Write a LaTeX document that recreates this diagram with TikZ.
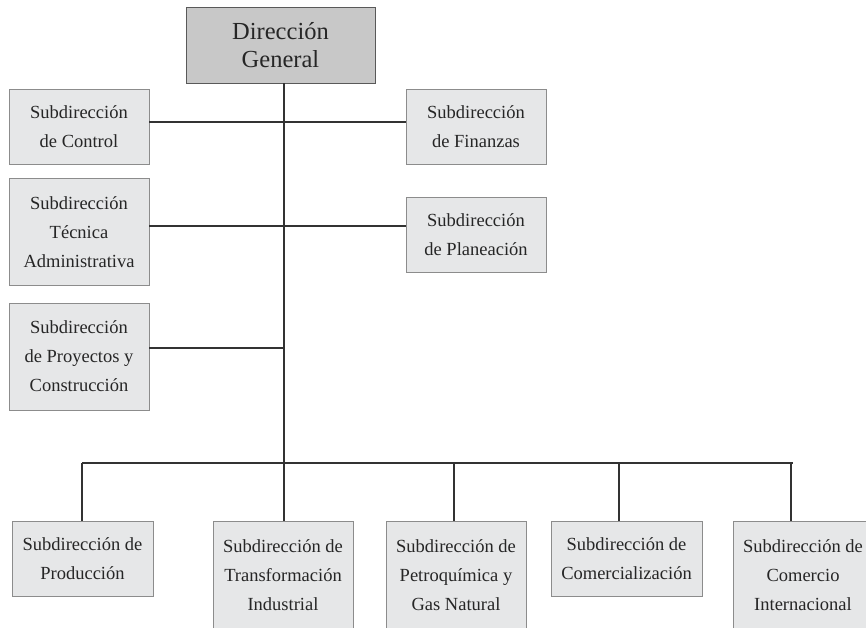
\documentclass[tikz,border=0pt]{standalone}
\usepackage{fontspec}
\setmainfont{Liberation Serif}
\usepackage{tikz}
\usetikzlibrary{positioning}
\definecolor{boxfill}{RGB}{230,231,232}
\definecolor{headfill}{RGB}{200,200,200}
\definecolor{boxline}{RGB}{140,140,140}
\definecolor{linkgray}{RGB}{50,50,50}
\begin{document}
\begin{tikzpicture}
 [ x=1pt, y=-1pt
 , unit/.style={draw=boxline, fill=boxfill, line width=0.8pt, inner sep=0pt, align=center, text=black!85, minimum width=140pt, minimum height=75pt, font=\fontsize{18.5}{29}\selectfont}
 , tall/.style={unit, minimum height=107pt}
 , head/.style={unit, fill=headfill, draw=black!65, minimum width=189pt, minimum height=76pt, font=\fontsize{24.5}{28}\selectfont}
 , link/.style={draw=linkgray, line width=1.1pt}
 ]
  \useasboundingbox (0,0) rectangle (866,627);
  \clip (0,0) rectangle (866,627);

  \node [head] (dg) at (280.5,45) {Dirección\\General};

  \node [unit] (ctrl) at (79,126.5)  {Subdirección\\de Control};
  \node [unit] (fin)  at (476,126.5) {Subdirección\\de Finanzas};
  \node [tall] (tec)  at (79,232)    {Subdirección\\Técnica\\Administrativa};
  \node [unit] (plan) at (476,234.5) {Subdirección\\de Planeación};
  \node [tall] (proy) at (79,356.5)  {Subdirección\\de Proyectos y\\Construcción};

  \node [unit, minimum width=141pt] (prod) at (82.5,558.5) {Subdirección de\\Producción};
  \node [tall, minimum height=108pt] (trans) at (283,575) {Subdirección de\\Transformación\\Industrial};
  \node [tall, minimum height=108pt] (petro) at (456,575) {Subdirección de\\Petroquímica y\\Gas Natural};
  \node [unit, minimum width=151pt] (com) at (626.5,558.5) {Subdirección de\\Comercialización};
  \node [tall, minimum height=108pt] (ci) at (803,575) {Subdirección de\\Comercio\\Internacional};

  \coordinate (j1) at (284,122);
  \coordinate (j2) at (284,226);
  \coordinate (j3) at (284,348);
  \coordinate (bus) at (284,463);
  \coordinate (busl) at (82,463);
  \coordinate (busr) at (793,463);

  \draw [link] (dg.south -| bus) -- (bus);
  \draw [link] (ctrl.east |- j1) -- (fin.west |- j1);
  \draw [link] (tec.east |- j2) -- (plan.west |- j2);
  \draw [link] (proy.east |- j3) -- (j3);
  \draw [link] (busl) -- (busr);
  \foreach \b/\x in {prod/82, trans/284, petro/454, com/619, ci/791}
  {
    \coordinate (d\b) at (\x,463);
    \draw [link] (d\b) -- (d\b |- \b.north);
  }
\end{tikzpicture}
\end{document}
